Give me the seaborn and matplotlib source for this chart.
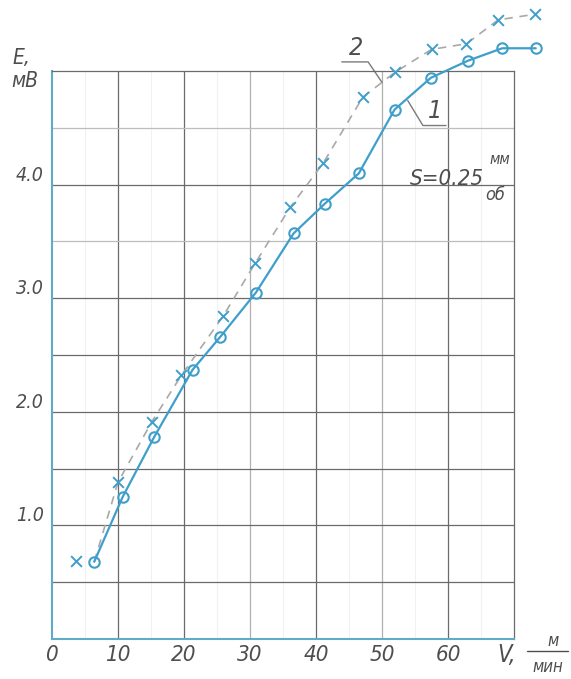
import matplotlib
matplotlib.use("Agg")
import matplotlib.pyplot as plt
import seaborn as sns
import numpy as np
import pandas as pd
from matplotlib.lines import Line2D

# ---- data ----
v1 = [6.4, 10.7, 15.5, 21.3, 25.5, 30.9, 36.6, 41.3, 46.5, 51.9, 57.4, 63.0, 68.2, 73.3]
e1 = [0.68, 1.25, 1.78, 2.37, 2.66, 3.05, 3.57, 3.83, 4.10, 4.66, 4.94, 5.09, 5.20, 5.20]
v2 = [3.6, 10.0, 15.1, 19.6, 25.9, 30.8, 36.1, 41.1, 47.1, 52.0, 57.5, 62.8, 67.6, 73.2]
e2 = [0.69, 1.38, 1.91, 2.32, 2.84, 3.31, 3.80, 4.19, 4.77, 4.99, 5.19, 5.24, 5.45, 5.50]
x_ticks = [0, 10, 20, 30, 40, 50, 60]
x_tick_labels = ["0", "10", "20", "30", "40", "50", "60"]
y_ticks = [1, 2, 3, 4]
y_tick_labels = ["1.0", "2.0", "3.0", "4.0"]

BLUE = "#3f9fca"
TXT = "#4e4e4e"
FONT = ["DejaVu Sans"]

sns.set_style("white")
plt.rcParams["font.family"] = FONT
plt.rcParams["font.stretch"] = "condensed"

fig = plt.figure(figsize=(5.71, 6.79), dpi=100)
ax = fig.add_axes([52 / 571, 1 - 639 / 679, 462 / 571, 568 / 679])
ax.set_xlim(0, 70)
ax.set_ylim(0, 5)

# grid
for xv in np.arange(5, 70, 5):
    if xv % 10 == 0:
        c, lw = ("#b0b0b0", 0.9) if xv in (30, 50) else ("#6a6a6a", 0.9)
    else:
        c, lw = ("#f1f1f1", 0.8)
    ax.axvline(xv, color=c, lw=lw, zorder=0)
for yv in np.arange(0.5, 5.0, 0.5):
    c, lw = ("#bdbdbd", 0.9) if yv in (3.5, 4.5) else ("#6a6a6a", 0.9)
    ax.axhline(yv, color=c, lw=lw, zorder=0)

# spines
for s in ("top", "right"):
    ax.spines[s].set_visible(True)
    ax.spines[s].set_color("#6a6a6a")
    ax.spines[s].set_linewidth(0.9)
for s in ("left", "bottom"):
    ax.spines[s].set_visible(True)
    ax.spines[s].set_color("#5fabc8")
    ax.spines[s].set_linewidth(1.5)

# curve 2 (dashed grey line + crosses)
dash_x = [v1[0]] + v2[1:]
dash_y = [e1[0]] + e2[1:]
sns.lineplot(x=dash_x, y=dash_y, sort=False, ax=ax, color="#a9a9a9",
             linewidth=1.2, linestyle=(0, (5, 4)), clip_on=False, zorder=2)
sns.scatterplot(x=v2, y=e2, ax=ax, marker="x", s=60, color=BLUE,
                linewidth=1.4, clip_on=False, zorder=4)

# curve 1 (solid with open circles)
sns.lineplot(x=v1, y=e1, sort=False, ax=ax, color=BLUE, linewidth=1.6,
             marker="o", markersize=7.5, markerfacecolor="none",
             markeredgecolor=BLUE, markeredgewidth=1.5, clip_on=False, zorder=3)

# ticks
ax.set_xticks(x_ticks)
ax.set_xticklabels(x_tick_labels, fontsize=16, style="italic", color=TXT)
ax.set_yticks(y_ticks)
ax.set_yticklabels(y_tick_labels, fontsize=14, style="italic", color=TXT)
for lab in ax.get_yticklabels():
    lab.set_va("bottom")
ax.tick_params(axis="both", length=0)
ax.tick_params(axis="x", pad=4)
ax.tick_params(axis="y", pad=6)
ax.set_xlabel("")
ax.set_ylabel("")

# axis titles
fig.text(12 / 571, 1 - 58 / 679, "E,", fontsize=15, style="italic", color=TXT, va="center", ha="left")
fig.text(11 / 571, 1 - 81 / 679, "мВ", fontsize=15, style="italic", color=TXT, va="center", ha="left")
fig.text(497 / 571, 1 - 655 / 679, "V,", fontsize=17, style="italic", color=TXT, va="center", ha="left")
fig.text(553 / 571, 1 - 641 / 679, "м", fontsize=12, style="italic", color=TXT, va="center", ha="center")
fig.text(548 / 571, 1 - 667 / 679, "мин", fontsize=12, style="italic", color=TXT, va="center", ha="center")
fig.add_artist(Line2D([527 / 571, 568 / 571], [1 - 651 / 679, 1 - 651 / 679],
                      color=TXT, lw=1.0, transform=fig.transFigure))

# leader labels
ax.plot([43.9, 47.9, 50.0], [5.08, 5.08, 4.90], color="#7a7a7a", lw=1.0, clip_on=False, zorder=1)
ax.text(46.0, 5.10, "2", fontsize=18, style="italic", color=TXT, ha="center", va="bottom", clip_on=False)
ax.plot([59.7, 56.2, 53.9], [4.52, 4.52, 4.74], color="#7a7a7a", lw=1.0, clip_on=False, zorder=1)
ax.text(58.0, 4.54, "1", fontsize=18, style="italic", color=TXT, ha="center", va="bottom", clip_on=False)

# feed annotation
ax.text(65.5, 4.05, "S=0.25", fontsize=16, style="italic", color=TXT, ha="right", va="center")
ax.text(66.3, 4.22, "мм", fontsize=11, style="italic", color=TXT, ha="left", va="center")
ax.text(65.7, 3.91, "об", fontsize=13, style="italic", color=TXT, ha="left", va="center")

fig.savefig("out.png", dpi=100)
